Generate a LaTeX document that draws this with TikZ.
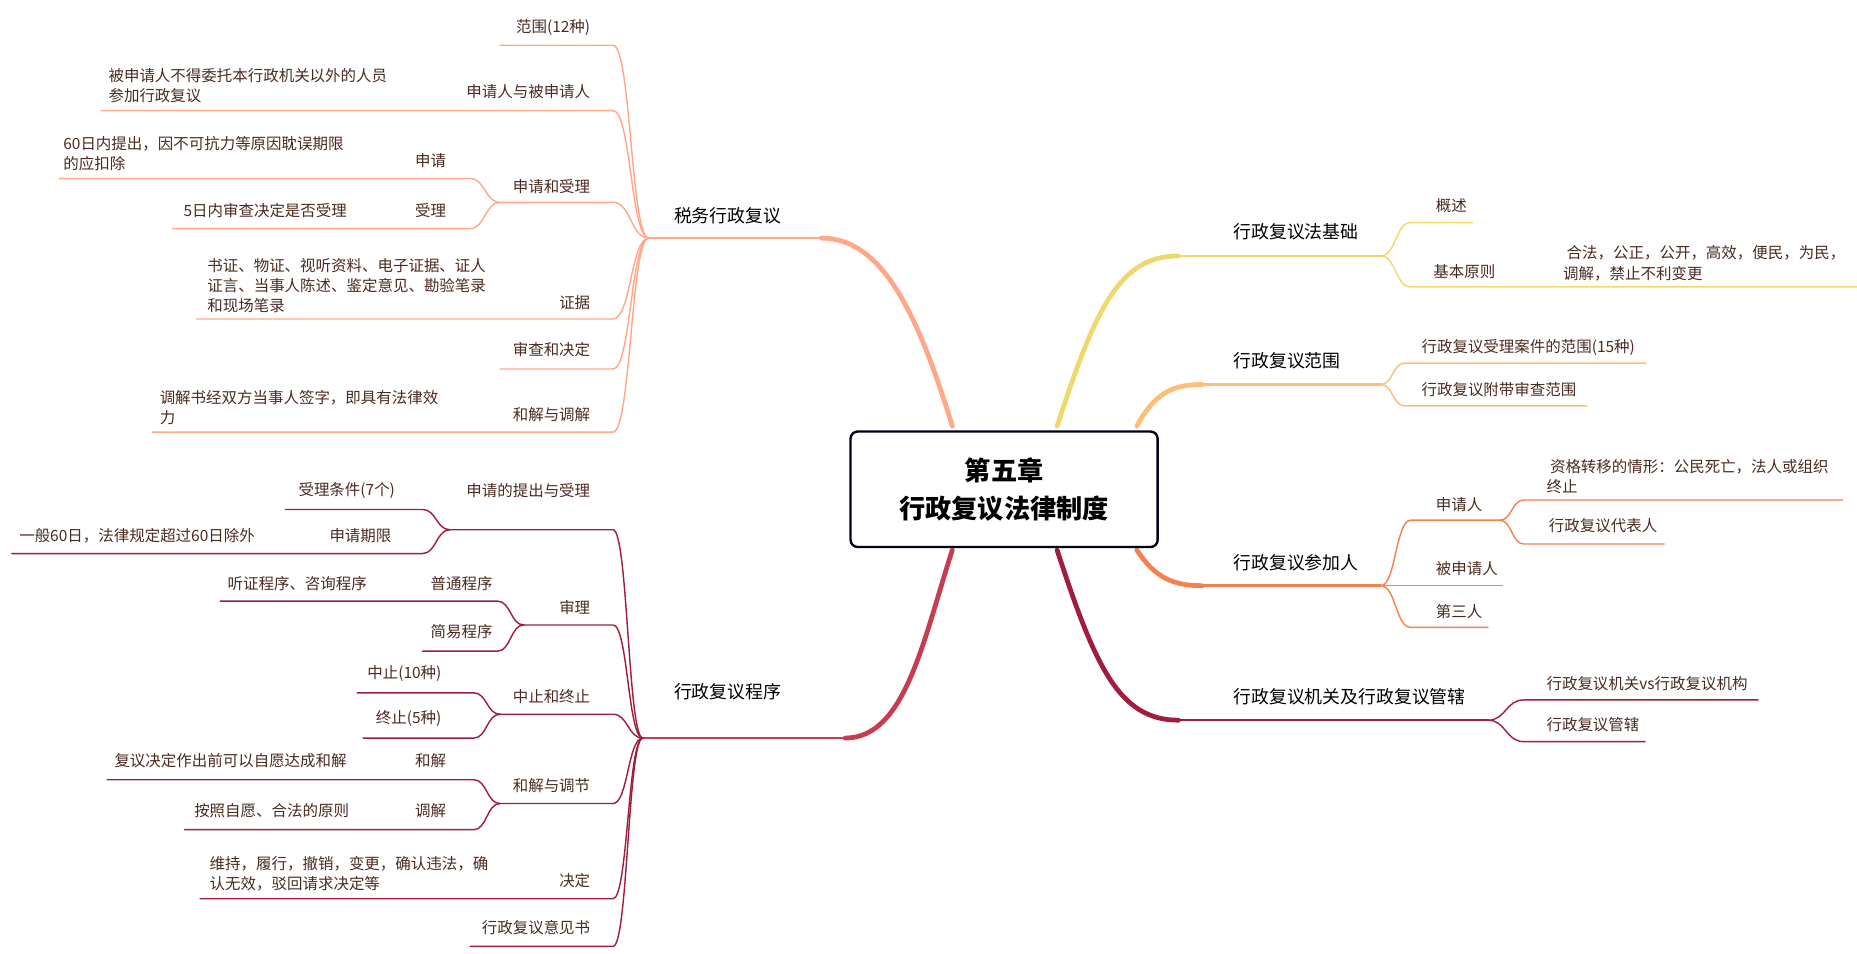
\documentclass[tikz,border=0pt]{standalone}
\usepackage{fontspec}
\setmainfont{Noto Sans CJK SC}
\usepackage{tikz}
\usetikzlibrary{positioning}
\definecolor{cyel}{RGB}{240,216,112}
\definecolor{corl}{RGB}{255,190,120}
\definecolor{corg}{RGB}{245,128,80}
\definecolor{cdrd}{RGB}{160,30,60}
\definecolor{csal}{RGB}{255,168,136}
\definecolor{cred}{RGB}{200,60,80}
\definecolor{ctxt}{RGB}{74,42,32}
\tikzset{
  lbl/.style={inner sep=1pt,font=\fontsize{13}{17}\selectfont,text=ctxt,align=left},
  mainlbl/.style={inner sep=1pt,font=\fontsize{15}{19}\selectfont,text=black},
}
% branch: parent (x,y), child start (x,y), child end x
\newcommand{\brc}[6][]{\draw[#1] (#2,#3) .. controls ({(#2+#4)/2},#3) and ({(#2+#4)/2},#5) .. (#4,#5) -- (#6,#5);}

\begin{document}
\begin{tikzpicture}[x=1pt,y=1pt,yscale=-1,line cap=round]
\useasboundingbox (0,0) rectangle (1560,801);

%main branches
\draw[csal,line width=4pt] (800,358) .. controls (770,260) and (740,200) .. (690,200);
\draw[csal,line width=2pt] (690,200) -- (545,200);
\draw[cred,line width=4pt] (800,462) .. controls (775,540) and (760,620) .. (710,620);
\draw[cred,line width=2pt] (710,620) -- (540,620);
\draw[cyel,line width=4pt] (888,358) .. controls (920,260) and (940,215) .. (990,215);
\draw[cyel,line width=2pt] (990,215) -- (1160,215);
\draw[corl,line width=4pt] (955,358) .. controls (970,330) and (985,323) .. (1010,323);
\draw[corl,line width=2pt] (1010,323) -- (1160,323);
\draw[corg,line width=4pt] (955,462) .. controls (970,485) and (985,492) .. (1010,492);
\draw[corg,line width=2pt] (1010,492) -- (1160,492);
\draw[cdrd,line width=4pt] (888,462) .. controls (920,560) and (940,605) .. (990,605);
\draw[cdrd,line width=2pt] (990,605) -- (1250,605);

%center
\node[draw=black!90!blue,line width=2pt,rounded corners=6pt,fill=white,minimum width=258pt,minimum height=97pt,align=center,font=\fontsize{22}{32}\selectfont\bfseries] (root) at (843.5,411) {第五章\\行政复议法律制度};

\node[mainlbl,anchor=west] (sw) at (565,181) {税务行政复议};
\node[mainlbl,anchor=west] (cx) at (565,581) {行政复议程序};
\node[mainlbl,anchor=west] (jc) at (1035,195) {行政复议法基础};
\node[mainlbl,anchor=west] (fw) at (1035,303) {行政复议范围};
\node[mainlbl,anchor=west] (cj) at (1035,473) {行政复议参加人};
\node[mainlbl,anchor=west] (jg) at (1035,585) {行政复议机关及行政复议管辖};

%tax review
\begin{scope}[csal,line width=1.2pt]
\brc{545}{200}{515}{38}{420}
\brc{545}{200}{515}{93}{85}
\brc{545}{200}{515}{170}{420}
\brc{420}{170}{395}{150}{50}
\brc{420}{170}{395}{192}{145}
\brc{545}{200}{515}{268}{165}
\brc{545}{200}{515}{310}{420}
\brc{545}{200}{515}{363}{128}
\end{scope}
\node[lbl,anchor=east] (sw1) at (497,23) {范围(12种)};
\node[lbl,anchor=east] (sw2) at (497,77) {申请人与被申请人};
\node[lbl,anchor=south west] (sw2a) at (90,88) {被申请人不得委托本行政机关以外的人员\\参加行政复议};
\node[lbl,anchor=east] (sw3) at (497,157) {申请和受理};
\node[lbl,anchor=east] (sw31) at (376,135) {申请};
\node[lbl,anchor=south west] (sw31a) at (52,145) {60日内提出，因不可抗力等原因耽误期限\\的应扣除};
\node[lbl,anchor=east] (sw32) at (376,177) {受理};
\node[lbl,anchor=west] (sw32a) at (153,177) {5日内审查决定是否受理};
\node[lbl,anchor=east] (sw4) at (497,254) {证据};
\node[lbl,anchor=south west] (sw4a) at (173,264) {书证、物证、视听资料、电子证据、证人\\证言、当事人陈述、鉴定意见、勘验笔录\\和现场笔录};
\node[lbl,anchor=east] (sw5) at (497,294) {审查和决定};
\node[lbl,anchor=east] (sw6) at (497,348) {和解与调解};
\node[lbl,anchor=south west] (sw6a) at (133,358) {调解书经双方当事人签字，即具有法律效\\力};

%procedure
\begin{scope}[cdrd,line width=1.2pt]
\brc{540}{620}{515}{445}{378}
\brc{378}{445}{355}{428}{240}
\brc{378}{445}{355}{465}{10}
\brc{540}{620}{515}{525}{440}
\brc{440}{525}{418}{505}{185}
\brc{440}{525}{418}{547}{355}
\brc{540}{620}{515}{600}{420}
\brc{420}{600}{398}{582}{300}
\brc{420}{600}{398}{620}{305}
\brc{540}{620}{515}{675}{420}
\brc{420}{675}{398}{655}{90}
\brc{420}{675}{398}{697}{155}
\brc{540}{620}{515}{755}{168}
\brc{540}{620}{515}{795}{395}
\end{scope}
\node[lbl,anchor=east] (cx1) at (497,412) {申请的提出与受理};
\node[lbl,anchor=east] (cx11) at (333,412) {受理条件(7个)};
\node[lbl,anchor=east] (cx12) at (330,450) {申请期限};
\node[lbl,anchor=west] (cx12a) at (15,450) {一般60日，法律规定超过60日除外};
\node[lbl,anchor=east] (cx2) at (497,510) {审理};
\node[lbl,anchor=east] (cx21) at (415,490) {普通程序};
\node[lbl,anchor=west] (cx21a) at (190,490) {听证程序、咨询程序};
\node[lbl,anchor=east] (cx22) at (415,531) {简易程序};
\node[lbl,anchor=east] (cx3) at (497,585) {中止和终止};
\node[lbl,anchor=east] (cx31) at (372,566) {中止(10种)};
\node[lbl,anchor=east] (cx32) at (372,604) {终止(5种)};
\node[lbl,anchor=east] (cx4) at (497,660) {和解与调节};
\node[lbl,anchor=east] (cx41) at (376,639) {和解};
\node[lbl,anchor=west] (cx41a) at (95,639) {复议决定作出前可以自愿达成和解};
\node[lbl,anchor=east] (cx42) at (376,681) {调解};
\node[lbl,anchor=west] (cx42a) at (162,681) {按照自愿、合法的原则};
\node[lbl,anchor=east] (cx5) at (497,740) {决定};
\node[lbl,anchor=south west] (cx5a) at (175,750) {维持，履行，撤销，变更，确认违法，确\\认无效，驳回请求决定等};
\node[lbl,anchor=east] (cx6) at (497,779) {行政复议意见书};

%right side
\begin{scope}[cyel,line width=1.2pt]
\brc{1160}{215}{1185}{187}{1237}
\brc{1160}{215}{1185}{241}{1560}
\end{scope}
\node[lbl,anchor=west] (jc1) at (1205,173) {概述};
\node[lbl,anchor=west] (jc2) at (1203,228) {基本原则};
\node[lbl,anchor=south west] (jc2a) at (1312,237) {\ 合法，公正，公开，高效，便民，为民，\\调解，禁止不利变更};

\begin{scope}[corl,line width=1.2pt]
\brc{1160}{323}{1180}{305}{1383}
\brc{1160}{323}{1180}{341}{1333}
\end{scope}
\node[lbl,anchor=west] (fw1) at (1193,292) {行政复议受理案件的范围(15种)};
\node[lbl,anchor=west] (fw2) at (1193,327) {行政复议附带审查范围};

\begin{scope}[corg,line width=1.2pt]
\brc{1160}{492}{1185}{437}{1260}
\brc{1260}{437}{1280}{420}{1548}
\brc{1260}{437}{1280}{457}{1398}
\brc{1160}{492}{1185}{492}{1262}
\brc{1160}{492}{1185}{527}{1250}
\end{scope}
\node[lbl,anchor=west] (cj1) at (1205,424) {申请人};
\node[lbl,anchor=south west] (cj1a) at (1298,416) {\ 资格转移的情形：公民死亡，法人或组织\\终止};
\node[lbl,anchor=west] (cj1b) at (1300,442) {行政复议代表人};
\node[lbl,anchor=west] (cj2) at (1205,478) {被申请人};
\node[lbl,anchor=west] (cj3) at (1205,514) {第三人};

\begin{scope}[cdrd,line width=1.2pt]
\brc{1250}{605}{1280}{588}{1477}
\brc{1250}{605}{1280}{623}{1382}
\end{scope}
\node[lbl,anchor=west] (jg1) at (1298,574) {行政复议机关vs行政复议机构};
\node[lbl,anchor=west] (jg2) at (1298,609) {行政复议管辖};
\end{tikzpicture}
\end{document}
